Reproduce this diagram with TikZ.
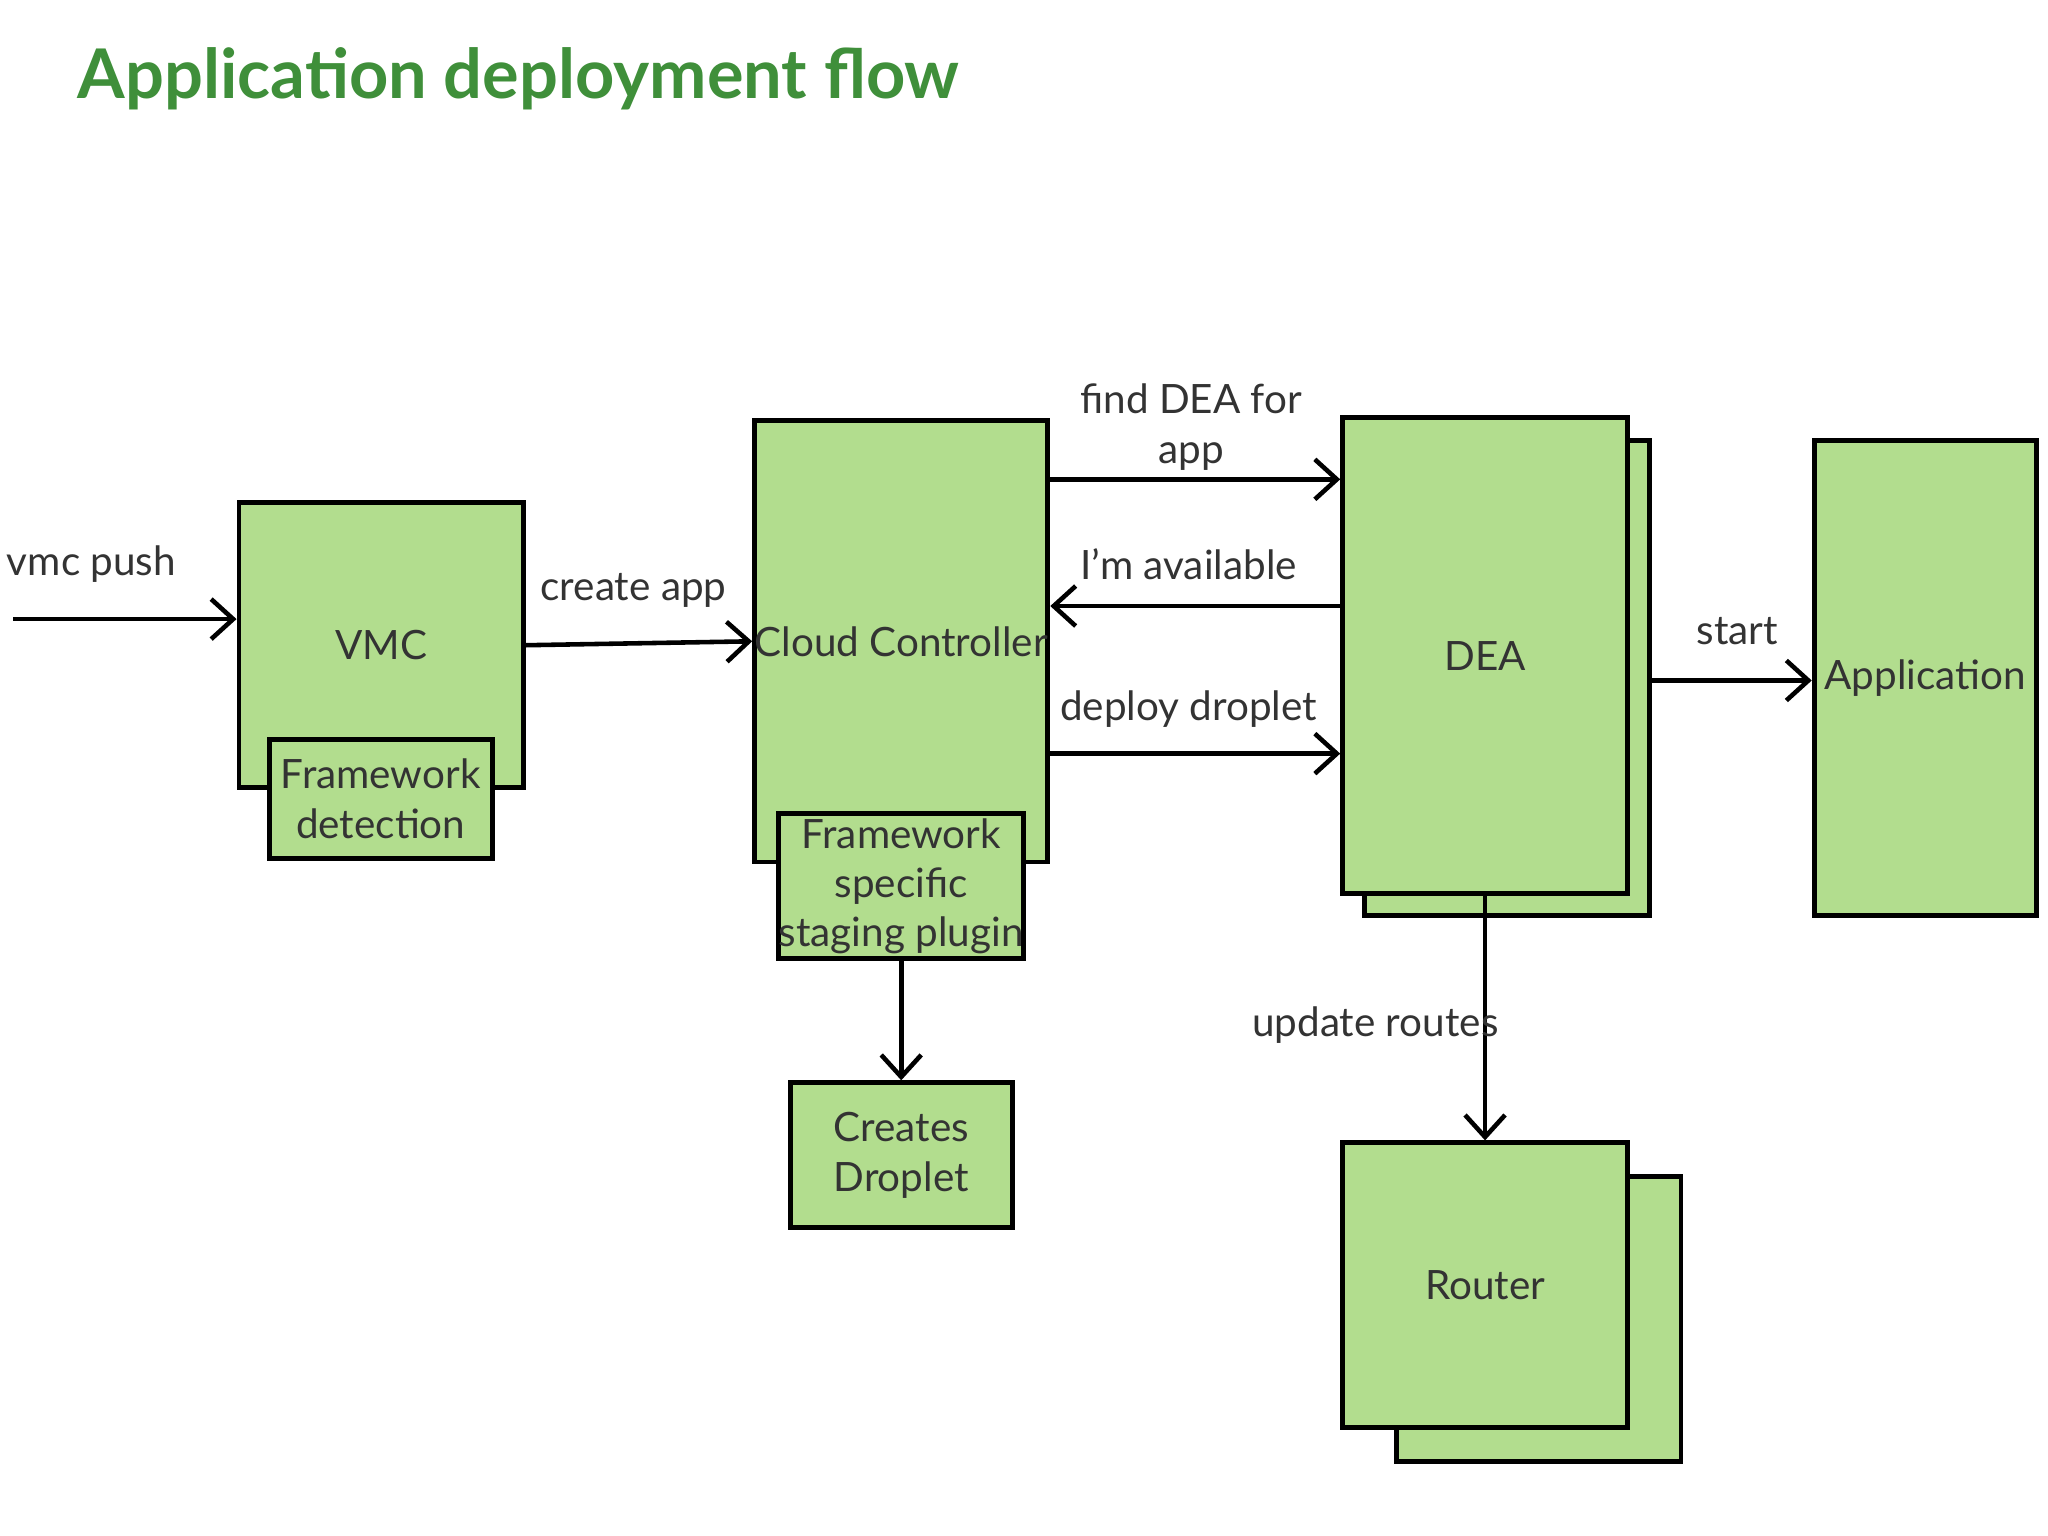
\documentclass[tikz,border=0pt]{standalone}
\usepackage{fontspec}
\setmainfont{Lato}
\usetikzlibrary{arrows.meta}
\definecolor{boxgreen}{HTML}{B2DD8E}
\definecolor{titlegreen}{HTML}{3F8F3A}
\begin{document}
\begin{tikzpicture}[x=0.01306cm, y=-0.01306cm,
    box/.style 2 args={draw=black, line width=1.4pt, fill=boxgreen, minimum width=#1*0.01306cm,
        minimum height=#2*0.01306cm, inner sep=0pt, align=center, font=\fontsize{11.5}{14}\selectfont, text=black!80},
    flow/.style={line width=1.3pt, -{Straight Barb[length=2.2mm, width=4mm, line width=1.3pt]}},
    lbl/.style={font=\fontsize{11.5}{14}\selectfont, text=black!80, align=center}
]
\useasboundingbox (0,0) rectangle (1568,1176);
\node[anchor=west, font=\fontsize{19.5}{23}\bfseries\selectfont, text=titlegreen] (title) at (50,60) {Application deployment flow};

\node[box={218}{218}] (vmc) at (292,494) {VMC};
\node[box={171}{91}] (fd) at (291.5,611.5) {Framework\\detection};
\node[box={218}{338}] (cc) at (690,491) {Cloud Controller};
\node[box={170}{111}] (plugin) at (690,678.5) {Framework\\specific\\staging plugin};
\node[box={170}{111}] (droplet) at (690,884.5) {Creates\\Droplet};
\node[box={218}{364}] (deab) at (1154,519) {};
\node[box={218}{364}] (dea) at (1137,502) {DEA};
\node[box={170}{364}] (app) at (1474,519) {Application};
\node[box={218}{218}] (routerb) at (1178,1010) {};
\node[box={218}{218}] (router) at (1137,984) {Router};

\coordinate (push) at (10,474);
\draw[flow] (push) -- (vmc.west |- push);
\node[lbl] (lpush) at (70,432) {vmc push};
\draw[flow] (vmc.east) -- (cc.west);
\node[lbl] (lcreate) at (485,452) {create app};
\draw[flow] (cc.east |- {(0,367)}) -- (dea.west |- {(0,367)});
\node[lbl] (lfind) at (912,327) {find DEA for\\app};
\draw[flow] (dea.west |- {(0,464)}) -- (cc.east |- {(0,464)});
\node[lbl] (lavail) at (910,432) {I’m available};
\draw[flow] (cc.east |- {(0,577)}) -- (dea.west |- {(0,577)});
\node[lbl] (ldeploy) at (910,543) {deploy droplet};
\draw[flow] (deab.east |- {(0,521)}) -- (app.west |- {(0,521)});
\node[lbl] (lstart) at (1330,483) {start};
\draw[flow] (dea.south) -- (router.north);
\node[lbl] (lroutes) at (1053,785) {update routes};
\draw[flow] (plugin.south) -- (droplet.north);
\end{tikzpicture}
\end{document}
